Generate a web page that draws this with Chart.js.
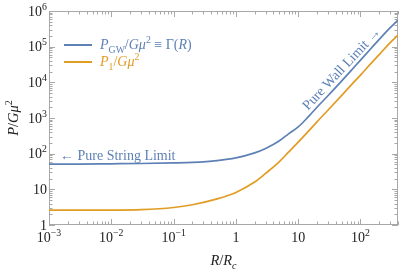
<!DOCTYPE html>
<html>
<head>
<meta charset="utf-8">
<script src="https://cdn.jsdelivr.net/npm/chart.js@4.4.1/dist/chart.umd.min.js"></script>
<style>
html, body { margin: 0; padding: 0; background: #fff; }
#wrap { width: 399px; height: 273px; }
</style>
</head>
<body>
<div id="wrap"><canvas id="chart" width="399" height="273"></canvas></div>
<script>
// R / R_c sample points
const ratio = [0.001, 0.003, 0.01, 0.03, 0.1, 0.2, 0.5, 1, 2, 3, 5, 7, 10, 15, 20, 30, 50, 70, 100, 150, 200, 300, 400];
// P_GW / G mu^2 = Gamma(R)
const gammaGW = [51, 51, 52, 53, 55, 57, 64, 76, 105, 140, 230, 360, 560, 1150, 2000, 4200, 11000, 21000, 42000, 92000, 160000, 340000, 560000];
// P_1 / G mu^2
const p1 = [2.6, 2.6, 2.62, 2.7, 3.1, 3.7, 5.4, 8.2, 16, 28, 60, 110, 210, 450, 780, 1650, 4300, 8200, 16000, 35000, 60000, 130000, 210000];

const xTicks = [0.001, 0.01, 0.1, 1, 10, 100];
const xTickLabels = [['10', '\u22123'], ['10', '\u22122'], ['10', '\u22121'], ['1', ''], ['10', ''], ['10', '2']];
const yTicks = [1, 10, 100, 1e3, 1e4, 1e5, 1e6];
const yTickLabels = [['1', ''], ['10', ''], ['10', '2'], ['10', '3'], ['10', '4'], ['10', '5'], ['10', '6']];

const BLUE = '#5e81b5';
const ORANGE = '#e19c24';
const FRAME = '#a8a8a8';
const SERIF = '"Liberation Serif", "DejaVu Serif", serif';

function font(size, italic) {
	return (italic ? 'italic ' : '') + size + 'px ' + SERIF;
}

// draws text made of parts: {t, it, sub, sup}
function drawRich(ctx, parts, x, y, size, color, align) {
	const small = size * 0.7;
	let total = 0;
	const widths = parts.map(p => {
		ctx.font = font(p.sub || p.sup ? small : size, p.it);
		const w = ctx.measureText(p.t).width;
		total += w;
		return w;
	});
	let cx = x;
	if (align === 'center') cx = x - total / 2;
	if (align === 'right') cx = x - total;
	ctx.fillStyle = color;
	ctx.textBaseline = 'alphabetic';
	ctx.textAlign = 'left';
	parts.forEach((p, i) => {
		ctx.font = font(p.sub || p.sup ? small : size, p.it);
		let dy = 0;
		if (p.sub) dy = size * 0.25;
		if (p.sup) dy = -size * 0.42;
		ctx.fillText(p.t, cx, y + dy);
		cx += widths[i];
	});
}

function tickLabel(pair) {
	const parts = [{ t: pair[0] }];
	if (pair[1]) parts.push({ t: pair[1], sup: true });
	return parts;
}

const framePlugin = {
	id: 'frame',
	beforeDatasetsDraw(chart) {
		const { ctx, chartArea: a, scales } = chart;
		ctx.save();
		ctx.strokeStyle = FRAME;
		ctx.lineWidth = 1;
		ctx.strokeRect(a.left + 0.5, a.top + 0.5, a.right - a.left - 1, a.bottom - a.top - 1);

		const logTicks = (scale, cb) => {
			const lo = Math.floor(Math.log10(scale.min));
			const hi = Math.ceil(Math.log10(scale.max));
			for (let k = lo; k <= hi; k++) {
				for (let m = 1; m <= 9; m++) {
					const v = m * Math.pow(10, k);
					if (v < scale.min * 0.999 || v > scale.max * 1.001) continue;
					cb(Math.round(scale.getPixelForValue(v)) + 0.5, m === 1);
				}
			}
		};
		ctx.beginPath();
		logTicks(scales.x, (px, major) => {
			const len = major ? 6 : 3.5;
			ctx.moveTo(px, a.bottom);
			ctx.lineTo(px, a.bottom - len);
			ctx.moveTo(px, a.top);
			ctx.lineTo(px, a.top + len);
		});
		logTicks(scales.y, (py, major) => {
			const len = major ? 6 : 3.5;
			ctx.moveTo(a.left, py);
			ctx.lineTo(a.left + len, py);
			ctx.moveTo(a.right, py);
			ctx.lineTo(a.right - len, py);
		});
		ctx.stroke();
		ctx.restore();
	},
	afterDatasetsDraw(chart) {
		const { ctx, chartArea: a, scales } = chart;
		ctx.save();
		// tick labels
		xTicks.forEach((v, i) => {
			drawRich(ctx, tickLabel(xTickLabels[i]), scales.x.getPixelForValue(v), a.bottom + 17, 14, '#222', 'center');
		});
		yTicks.forEach((v, i) => {
			drawRich(ctx, tickLabel(yTickLabels[i]), a.left - 2, scales.y.getPixelForValue(v) + 4.5, 14, '#222', 'right');
		});

		// axis titles
		drawRich(ctx, [{ t: 'R', it: true }, { t: '/' }, { t: 'R', it: true }, { t: 'c', it: true, sub: true }],
			(a.left + a.right) / 2, 265, 14.5, '#222', 'center');
		ctx.save();
		ctx.translate(18, 118);
		ctx.rotate(-Math.PI / 2);
		drawRich(ctx, [{ t: 'P', it: true }, { t: '/' }, { t: 'G', it: true }, { t: '\u03bc', it: true }, { t: '2', sup: true }],
			0, 0, 14.5, '#222', 'center');
		ctx.restore();

		// legend
		ctx.lineWidth = 2;
		ctx.strokeStyle = BLUE;
		ctx.beginPath();
		ctx.moveTo(64, 45);
		ctx.lineTo(92, 45);
		ctx.stroke();
		ctx.strokeStyle = ORANGE;
		ctx.beginPath();
		ctx.moveTo(64, 62);
		ctx.lineTo(92, 62);
		ctx.stroke();
		drawRich(ctx, [{ t: 'P', it: true }, { t: 'GW', sub: true }, { t: '/' }, { t: 'G', it: true }, { t: '\u03bc', it: true },
			{ t: '2', sup: true }, { t: ' \u2261 \u0393(' }, { t: 'R', it: true }, { t: ')' }], 100, 49, 14, BLUE, 'left');
		drawRich(ctx, [{ t: 'P', it: true }, { t: '1', sub: true }, { t: '/' }, { t: 'G', it: true }, { t: '\u03bc', it: true },
			{ t: '2', sup: true }], 100, 66, 14, ORANGE, 'left');

		// annotations
		ctx.fillStyle = BLUE;
		ctx.font = font(14, false);
		ctx.textAlign = 'left';
		ctx.textBaseline = 'alphabetic';
		ctx.fillText('\u2190 Pure String Limit', 60, 160);
		ctx.save();
		ctx.translate(342, 69);
		ctx.rotate(-47 * Math.PI / 180);
		ctx.textAlign = 'center';
		ctx.textBaseline = 'middle';
		ctx.fillText('Pure Wall Limit \u2192', 0, 0);
		ctx.restore();
		ctx.restore();
	}
};

const toPoints = ys => ratio.map((r, i) => ({ x: r, y: ys[i] }));

new Chart(document.getElementById('chart'), {
	type: 'line',
	data: {
		datasets: [
			{ label: 'P_GW/G\u03bc\u00b2 \u2261 \u0393(R)', data: toPoints(gammaGW), borderColor: BLUE, borderWidth: 1.7, pointRadius: 0, cubicInterpolationMode: 'monotone' },
			{ label: 'P_1/G\u03bc\u00b2', data: toPoints(p1), borderColor: ORANGE, borderWidth: 1.7, pointRadius: 0, cubicInterpolationMode: 'monotone' }
		]
	},
	options: {
		responsive: false,
		animation: false,
		devicePixelRatio: 1,
		layout: { padding: { top: 11, right: 1, left: 0, bottom: 0 } },
		plugins: { legend: { display: false }, tooltip: { enabled: false } },
		scales: {
			x: {
				type: 'logarithmic', min: 0.001, max: 400,
				grid: { display: false }, border: { display: false },
				ticks: { display: false },
				afterFit(s) { s.height = 48; }
			},
			y: {
				type: 'logarithmic', min: 1, max: 1e6,
				grid: { display: false }, border: { display: false },
				ticks: { display: false },
				afterFit(s) { s.width = 49; }
			}
		}
	},
	plugins: [framePlugin]
});
</script>
</body>
</html>
